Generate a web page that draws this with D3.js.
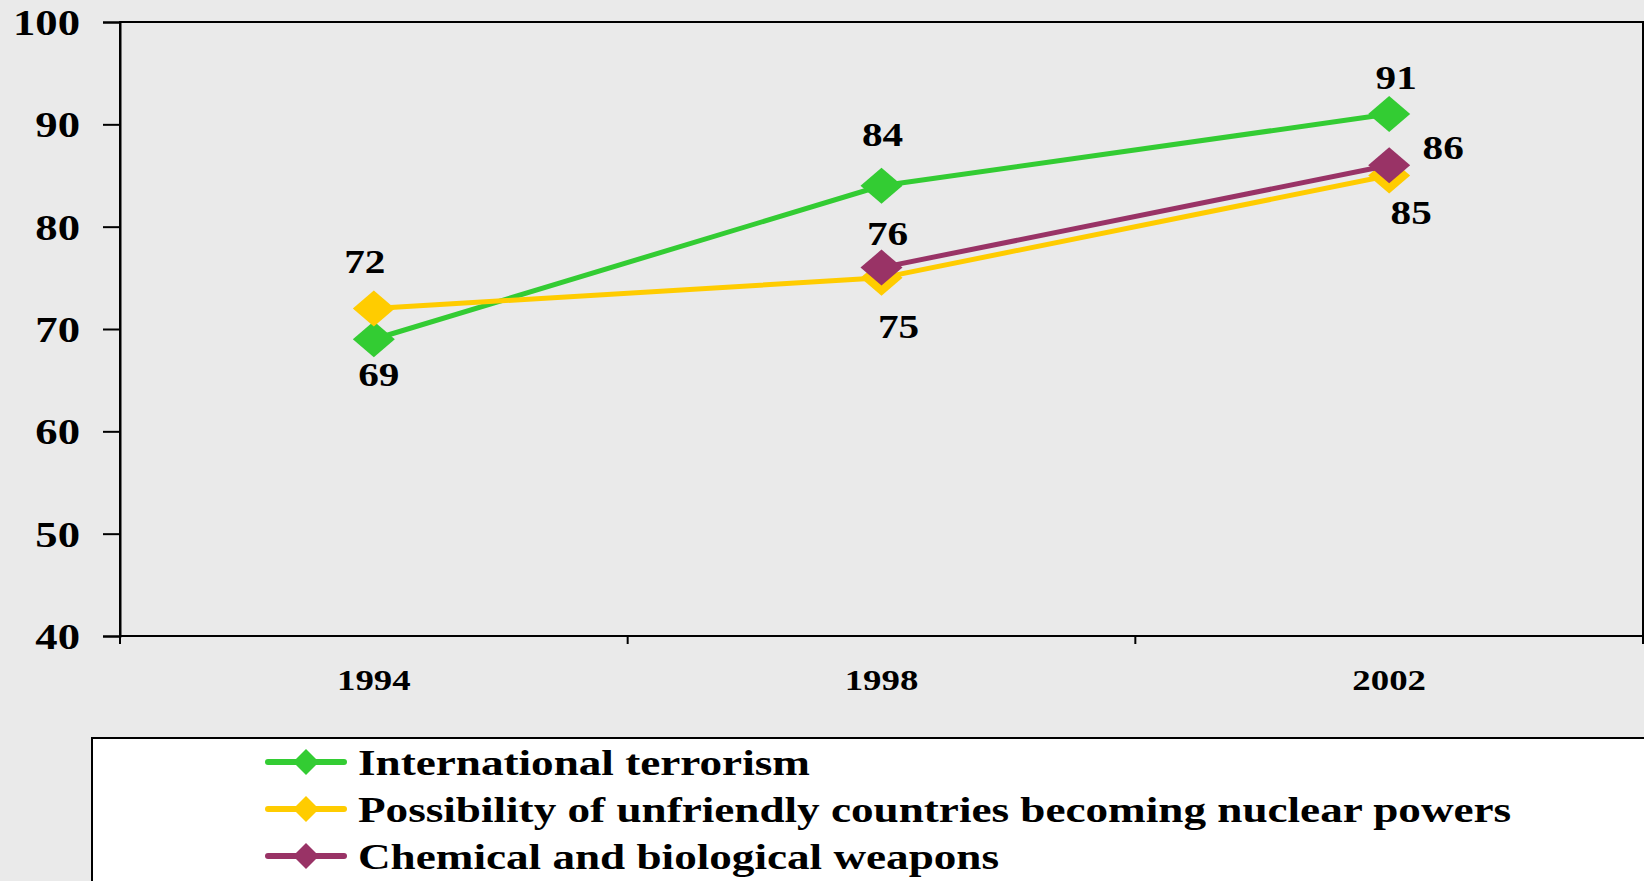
<!DOCTYPE html>
<html>
<head>
<meta charset="utf-8">
<script src="https://cdn.jsdelivr.net/npm/d3@7"></script>
<style>
  html, body { margin: 0; padding: 0; background: #eaeaea; overflow: hidden; }
  svg { display: block; }
  text { font-family: "Liberation Serif", "Times New Roman", serif; font-weight: bold; fill: #000; }
</style>
</head>
<body>
<svg id="chart" width="1644" height="881"></svg>
<script>
// ---- data ----
const years = ["1994", "1998", "2002"];
const seriesNames = [
  "International terrorism",
  "Possibility of unfriendly countries becoming nuclear powers",
  "Chemical and biological weapons"
];
const terrorism = [69, 84, 91];
const nuclear = [72, 75, 85];
const chemical = [null, 76, 86];
const yTicks = [40, 50, 60, 70, 80, 90, 100];
const seriesColors = ["#33cc33", "#ffcc00", "#993366"];

// label offsets (layout only) [dx, dy] from each point
const labelOffsets = [
  [[5, 47], [1, -40], [7, -25]],
  [[-9, -36], [17, 60], [22, 48]],
  [null, [6, -23], [54, -6]]
];

const series = [terrorism, nuclear, chemical].map((vals, i) => ({
  name: seriesNames[i], color: seriesColors[i],
  points: years.map((y, j) => ({ year: y, value: vals[j], off: labelOffsets[i][j] })).filter(d => d.value != null)
}));

// ---- layout ----
const SX = 1.26;
const plot = { left: 120, right: 1643, top: 22, bottom: 636 };
const svg = d3.select("#chart");

const x = d3.scaleBand().domain(years).range([plot.left, plot.right]);
const y = d3.scaleLinear().domain([40, 100]).range([plot.bottom, plot.top]);
const cx = d => x(d) + x.bandwidth() / 2;

svg.append("rect").attr("width", 1644).attr("height", 881).attr("fill", "#eaeaea");

// plot frame
svg.append("rect")
  .attr("x", plot.left).attr("y", plot.top)
  .attr("width", plot.right - plot.left).attr("height", plot.bottom - plot.top)
  .attr("fill", "#eaeaea").attr("stroke", "#000").attr("stroke-width", 2);

// y axis
const yAxis = svg.append("g").attr("transform", `translate(${plot.left},0)`)
  .call(d3.axisLeft(y).tickValues(yTicks).tickSize(17).tickFormat(""));
yAxis.select(".domain").attr("stroke", "#000").attr("stroke-width", 2);
yAxis.selectAll(".tick line").attr("stroke", "#000").attr("stroke-width", 2);

svg.append("g").selectAll("text").data(yTicks).join("text")
  .attr("text-anchor", "end")
  .attr("font-size", 35.5)
  .attr("transform", d => `translate(80,${y(d) + 13}) scale(${SX},1)`)
  .text(d => d);

// x axis
const xTickPos = years.map(d => x(d)).concat([plot.right]);
const xAxis = svg.append("g").attr("transform", `translate(0,${plot.bottom})`);
xAxis.append("line").attr("x1", plot.left).attr("x2", plot.right)
  .attr("stroke", "#000").attr("stroke-width", 2);
xAxis.selectAll("line.tk").data(xTickPos).join("line").attr("class", "tk")
  .attr("x1", d => d).attr("x2", d => d).attr("y1", 0).attr("y2", 8)
  .attr("stroke", "#000").attr("stroke-width", 2);

svg.append("g").selectAll("text").data(years).join("text")
  .attr("text-anchor", "middle")
  .attr("font-size", 29)
  .attr("transform", d => `translate(${cx(d)},690) scale(1.27,1)`)
  .text(d => d);

// lines and markers
const line = d3.line().x(d => cx(d.year)).y(d => y(d.value));
const diamond = (w, h) => `M0,${-h}L${w},0L0,${h}L${-w},0Z`;

series.forEach(s => {
  const g = svg.append("g");
  g.append("path").datum(s.points).attr("d", line)
    .attr("fill", "none").attr("stroke", s.color).attr("stroke-width", 5)
    .attr("stroke-linejoin", "round");
  g.selectAll("path.m").data(s.points).join("path").attr("class", "m")
    .attr("d", diamond(21, 18))
    .attr("transform", d => `translate(${cx(d.year)},${y(d.value)})`)
    .attr("fill", s.color);
});

// data labels
series.forEach(s => {
  svg.append("g").selectAll("text").data(s.points).join("text")
    .attr("text-anchor", "middle")
    .attr("font-size", 33.5)
    .attr("transform", d => `translate(${cx(d.year) + d.off[0]},${y(d.value) + d.off[1]}) scale(1.23,1)`)
    .text(d => d.value);
});

// legend
const lg = svg.append("g");
lg.append("rect").attr("x", 92).attr("y", 738).attr("width", 1700).attr("height", 300)
  .attr("fill", "#fff").attr("stroke", "#000").attr("stroke-width", 2);
const rows = lg.selectAll("g.row").data(series).join("g").attr("class", "row")
  .attr("transform", (d, i) => `translate(0,${762 + i * 47})`);
rows.append("line").attr("x1", 268).attr("x2", 344).attr("y1", 0).attr("y2", 0)
  .attr("stroke", d => d.color).attr("stroke-width", 6).attr("stroke-linecap", "round");
rows.append("path").attr("d", diamond(13, 13)).attr("transform", "translate(306,0)")
  .attr("fill", d => d.color);
rows.append("text").attr("font-size", 36)
  .attr("transform", `translate(358,13) scale(1.255,1)`)
  .text(d => d.name);
</script>
</body>
</html>
